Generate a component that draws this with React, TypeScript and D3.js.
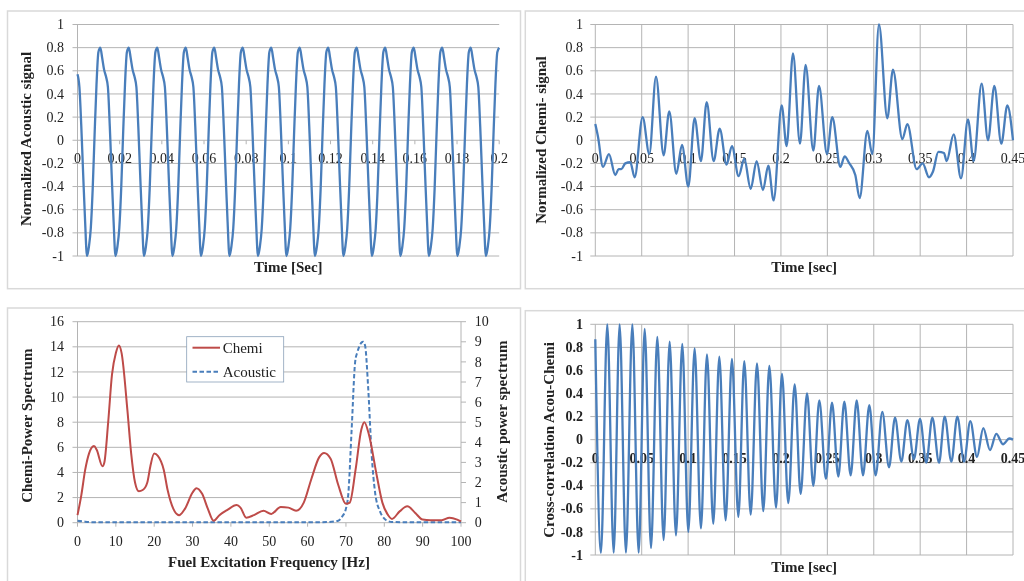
import React from "react";
import * as d3 from "d3";

const acousticSignal = [
  .57,.46,.12,-.3,-.7,-1,-.92,-.76,-.42,.05,.48,.76,.8,.71,.61,
  .55,.46,.12,-.3,-.7,-1,-.92,-.76,-.42,.05,.48,.76,.8,.71,.61,
  .55,.46,.12,-.3,-.7,-1,-.92,-.76,-.42,.05,.48,.76,.8,.71,.61,
  .55,.46,.12,-.3,-.7,-1,-.92,-.76,-.42,.05,.48,.76,.8,.71,.61,
  .55,.46,.12,-.3,-.7,-1,-.92,-.76,-.42,.05,.48,.76,.8,.71,.61,
  .55,.46,.12,-.3,-.7,-1,-.92,-.76,-.42,.05,.48,.76,.8,.71,.61,
  .55,.46,.12,-.3,-.7,-1,-.92,-.76,-.42,.05,.48,.76,.8,.71,.61,
  .55,.46,.12,-.3,-.7,-1,-.92,-.76,-.42,.05,.48,.76,.8,.71,.61,
  .55,.46,.12,-.3,-.7,-1,-.92,-.76,-.42,.05,.48,.76,.8,.71,.61,
  .55,.46,.12,-.3,-.7,-1,-.92,-.76,-.42,.05,.48,.76,.8,.71,.61,
  .55,.46,.12,-.3,-.7,-1,-.92,-.76,-.42,.05,.48,.76,.8,.71,.61,
  .55,.46,.12,-.3,-.7,-1,-.92,-.76,-.42,.05,.48,.76,.8,.71,.61,
  .55,.46,.12,-.3,-.7,-1,-.92,-.76,-.42,.05,.48,.76,.8,.71,.61,
  .55,.46,.12,-.3,-.7,-1,-.92,-.76,-.42,.05,.48,.76,.8,.71,.61,
  .55,.46,.12,-.3,-.7,-1,-.92,-.76,-.42,.05,.48,.76,.8,
];
const acousticTimeEnd = 0.2;

const chemiTimes = [0,.0029,.0083,.0147,.0215,.0251,.028,.0323,.0377,.0424,.051,.0582,.0654,.0736,.0797,.0873,.0934,.1002,.107,.1138,.12,.1275,.134,.1415,.1472,.1544,.1605,.1674,.1738,.1806,.1864,.1921,.2008,.2061,.213,.2205,.2266,.2349,.241,.2496,.2553,.264,.2686,.2737,.2801,.2848,.2931,.2984,.3056,.3146,.3207,.3308,.3362,.3462,.3527,.3595,.3638,.3696,.3757,.3785,.3861,.394,.4015,.4076,.4162,.4231,.4299,.4374,.4439,.45];
const chemiValues = [.14,.03,-.23,-.12,-.3,-.25,-.25,-.2,-.19,-.32,.2,-.12,.55,-.13,.25,-.29,-.04,-.4,.19,-.18,.33,-.18,.1,-.21,-.05,-.31,-.16,-.42,-.18,-.43,-.22,-.52,.3,-.05,.75,-.03,.65,-.09,.47,-.12,.2,-.23,-.14,-.2,-.3,-.5,.08,-.12,1,.19,.61,.01,.14,-.25,-.2,-.32,-.27,-.1,-.11,-.18,.05,-.33,.18,-.18,.49,0,.47,-.03,.3,0];

const spectrumFreq = [0,1,2,3,4.3,5,6.5,7,8,9,10,10.8,11.5,13,14,15,16,17,18.2,19,20,21,22.5,23.5,25,26.5,28,30,31,32.5,34,35.5,37,39,41.5,42.5,44,46,48.5,50.5,53,55,57,59,61,63,64.3,66,68,70,71,72.5,74,74.8,76,78,79.5,81,82,84,86,88,90,92,95,97,99,100];
const spectrumChemi = [.6,2.2,4.2,5.5,6.1,5.8,4.5,4.8,8,11.8,13.5,14.1,13.5,9,5.5,3.2,2.5,2.6,3.2,4.5,5.5,5.3,4.2,2.6,1.1,.6,1.1,2.4,2.75,2.3,1.1,.15,.6,1,1.4,1.2,.4,.6,.95,.7,1.25,1.2,.95,1.6,3.5,5.2,5.55,5.1,3,1.5,1.6,4.2,7.4,8,7,3.8,1.6,.6,.3,.9,1.3,.8,.25,.2,.2,.4,.25,.1];
const spectrumAcousticFreq = [0,2,5,20,40,60,65,68,69,70,70.6,71.5,72.4,73,74,74.5,75,75.8,76.7,77.6,78.9,80,81,82,100];
const spectrumAcoustic = [.1,.05,.02,.02,.02,.02,.03,.1,.3,.7,1.4,4.7,8,8.5,8.95,9,8.8,6.7,3.4,1.5,.55,.2,.08,.03,.02];

const corrTimes = [0,.0061,.0129,.0198,.0262,.033,.0399,.0467,.0532,.06,.0668,.0736,.0801,.0869,.0937,.1002,.107,.1138,.1203,.1271,.1336,.1404,.1472,.1541,.1605,.1674,.1742,.181,.1875,.1947,.2011,.2079,.2148,.2212,.2281,.2349,.2413,.2485,.255,.2618,.2683,.2751,.2816,.2884,.2952,.302,.3092,.3164,.3229,.3297,.3362,.3433,.3498,.3566,.3631,.3703,.3764,.3836,.39,.3972,.404,.4112,.418,.4252,.432,.4392,.4461,.45];
const corrValues = [.87,-.98,1,-.98,1,-.98,1,-.98,.96,-.94,.89,-.87,.85,-.83,.83,-.8,.79,-.77,.74,-.73,.72,-.7,.7,-.67,.68,-.65,.66,-.62,.64,-.59,.57,-.55,.48,-.47,.4,-.4,.34,-.34,.32,-.32,.33,-.31,.34,-.31,.3,-.31,.24,-.24,.19,-.19,.17,-.17,.18,-.2,.19,-.2,.2,-.19,.2,-.19,.16,-.15,.1,-.09,.05,-.04,.01,0];

const signalYTicks = [-1,-.8,-.6,-.4,-.2,0,.2,.4,.6,.8,1];
const acousticXTicks = [0,.02,.04,.06,.08,.1,.12,.14,.16,.18,.2];
const timeXTicks = [0,.05,.1,.15,.2,.25,.3,.35,.4,.45];
const chemiPowerTicks = [0,2,4,6,8,10,12,14,16];
const acousticPowerTicks = [0,1,2,3,4,5,6,7,8,9,10];
const freqTicks = [0,10,20,30,40,50,60,70,80,90,100];

const FONT = "'Liberation Serif', serif";
const BLUE = "#4a7ebb";
const RED = "#be4b48";
const GRID = "#b4b4b4";
const FRAME = "#d9d9d9";
const TXT = "#222";
const TITLE = 15;
const LW = 2.3;

type P = { x: [number, number]; y: [number, number] };

const Frame = ({ x, y, w, h }: any) => (
  <rect x={x} y={y} width={w} height={h} fill="#fff" stroke={FRAME} strokeWidth={1.5} />
);

const YLabels = ({ p, ticks, right, bold }: any) => {
  const y = d3.scaleLinear().domain([ticks[0], ticks[ticks.length - 1]]).range([p.y[1], p.y[0]]);
  return (
    <g>
      {ticks.map((t: number) => (
        <g key={t}>
          <line x1={p.x[0] - 5} x2={p.x[1]} y1={y(t)} y2={y(t)} stroke={GRID} strokeWidth={1} />
          <text x={right} y={y(t)} dy="0.33em" textAnchor="end" fontSize={14} fontWeight={bold ? "bold" : "normal"} fill={TXT} fontFamily={FONT}>{t}</text>
        </g>
      ))}
    </g>
  );
};

const SignalPanel = ({ p, xDomain, xTicks, vGrid, line, yLabelX, yLabelCy, yTitle, xTitle, xTitleY, right, bold, curve, labelDy }: any) => {
  const x = d3.scaleLinear().domain(xDomain).range(p.x);
  const y = d3.scaleLinear().domain([-1, 1]).range([p.y[1], p.y[0]]);
  const gen = d3.line<[number, number]>().x(d => x(d[0])).y(d => y(d[1])).curve(curve);
  return (
    <g>
      <YLabels p={p} ticks={signalYTicks} right={right} bold={bold} />
      <line x1={p.x[0]} x2={p.x[0]} y1={p.y[0]} y2={p.y[1]} stroke={GRID} />
      {vGrid && xTicks.slice(1).map((t: number) => (
        <line key={t} x1={x(t)} x2={x(t)} y1={p.y[0]} y2={p.y[1]} stroke={GRID} />
      ))}
      {!vGrid && xTicks.map((t: number) => (
        <line key={t} x1={x(t)} x2={x(t)} y1={y(0)} y2={y(0) + 4} stroke={GRID} />
      ))}
      {xTicks.map((t: number) => (
        <text key={t} x={x(t)} y={y(0) + labelDy} dy="0.33em" textAnchor="middle" fontSize={14} fontWeight={bold ? "bold" : "normal"} fill={TXT} fontFamily={FONT}>{t}</text>
      ))}
      <path d={gen(line) ?? ""} fill="none" stroke={BLUE} strokeWidth={LW} strokeLinejoin="round" />
      <text transform={`translate(${yLabelX},${yLabelCy}) rotate(-90)`} textAnchor="middle" dy="0.33em" fontSize={TITLE} fontWeight="bold" fill={TXT} fontFamily={FONT}>{yTitle}</text>
      <text x={(p.x[0] + p.x[1]) / 2} y={xTitleY} dy="0.33em" textAnchor="middle" fontSize={TITLE} fontWeight="bold" fill={TXT} fontFamily={FONT}>{xTitle}</text>
    </g>
  );
};

const SpectrumPanel = () => {
  const p: P = { x: [77.5, 461], y: [321.7, 522.7] };
  const x = d3.scaleLinear().domain([0, 100]).range(p.x);
  const yL = d3.scaleLinear().domain([0, 16]).range([p.y[1], p.y[0]]);
  const yR = d3.scaleLinear().domain([0, 10]).range([p.y[1], p.y[0]]);
  const chemi = d3.line<number>().x((_, i) => x(spectrumFreq[i])).y(d => yL(d)).curve(d3.curveMonotoneX);
  const acoustic = d3.line<number>().x((_, i) => x(spectrumAcousticFreq[i])).y(d => yR(d)).curve(d3.curveMonotoneX);
  const lg = { x: 186.7, y: 336.7, w: 97, h: 45.3 };
  return (
    <g>
      <YLabels p={p} ticks={chemiPowerTicks} right={64} />
      <line x1={p.x[0]} x2={p.x[0]} y1={p.y[0]} y2={p.y[1]} stroke={GRID} />
      <line x1={p.x[1]} x2={p.x[1]} y1={p.y[0]} y2={p.y[1]} stroke={GRID} />
      {acousticPowerTicks.map(t => (
        <g key={t}>
          <line x1={p.x[1]} x2={p.x[1] + 5} y1={yR(t)} y2={yR(t)} stroke={GRID} />
          <text x={474.7} y={yR(t)} dy="0.33em" fontSize={14} fill={TXT} fontFamily={FONT}>{t}</text>
        </g>
      ))}
      {freqTicks.map(t => (
        <g key={t}>
          <line x1={x(t)} x2={x(t)} y1={p.y[1]} y2={p.y[1] + 4} stroke={GRID} />
          <text x={x(t)} y={541} dy="0.33em" textAnchor="middle" fontSize={14} fill={TXT} fontFamily={FONT}>{t}</text>
        </g>
      ))}
      <path d={acoustic(spectrumAcoustic) ?? ""} fill="none" stroke={BLUE} strokeWidth={LW - 0.3} strokeDasharray="4.5 2.5" />
      <path d={chemi(spectrumChemi) ?? ""} fill="none" stroke={RED} strokeWidth={LW - 0.3} />
      <rect x={lg.x} y={lg.y} width={lg.w} height={lg.h} fill="#fff" stroke="#8aa0b8" strokeWidth={0.8} />
      <line x1={192.5} x2={220} y1={347.7} y2={347.7} stroke={RED} strokeWidth={LW - 0.3} />
      <line x1={192.5} x2={220} y1={371.7} y2={371.7} stroke={BLUE} strokeWidth={LW - 0.3} strokeDasharray="4.5 2.5" />
      <text x={222.7} y={348.5} dy="0.33em" fontSize={TITLE} fill={TXT} fontFamily={FONT}>Chemi</text>
      <text x={222.7} y={372} dy="0.33em" fontSize={TITLE} fill={TXT} fontFamily={FONT}>Acoustic</text>
      <text transform="translate(26.7,425.7) rotate(-90)" textAnchor="middle" dy="0.33em" fontSize={TITLE} fontWeight="bold" fill={TXT} fontFamily={FONT}>Chemi-Power Spectrum</text>
      <text transform="translate(501.7,421.7) rotate(-90)" textAnchor="middle" dy="0.33em" fontSize={TITLE} fontWeight="bold" fill={TXT} fontFamily={FONT}>Acoustic power spectrum</text>
      <text x={269} y={561.7} dy="0.33em" textAnchor="middle" fontSize={TITLE} fontWeight="bold" fill={TXT} fontFamily={FONT}>Fuel Excitation Frequency [Hz]</text>
    </g>
  );
};

export default function App() {
  const acousticLine = acousticSignal.map((v, i) => [(i / (acousticSignal.length - 1)) * acousticTimeEnd, v] as [number, number]);
  const chemiLine = chemiTimes.map((t, i) => [t, chemiValues[i]] as [number, number]);
  const corrLine = corrTimes.map((t, i) => [t, corrValues[i]] as [number, number]);
  return (
    <svg width={1024} height={581} viewBox="0 0 1024 581" style={{ position: "absolute", left: 0, top: 0, background: "#fff" }}>
      <defs>
        <filter id="soft" x="0" y="0" width="100%" height="100%" filterUnits="userSpaceOnUse">
          <feGaussianBlur stdDeviation="0.45" />
        </filter>
      </defs>
      <g filter="url(#soft)">
        <rect x={0} y={0} width={1024} height={581} fill="#fff" />
        <Frame x={7.5} y={11} w={513} h={277.7} />
        <Frame x={525.3} y={11} w={520} h={277.7} />
        <Frame x={7.5} y={308} w={513} h={300} />
        <Frame x={525.3} y={310.7} w={520} h={300} />
        <SignalPanel p={{ x: [77.5, 499.2], y: [24.5, 256] }} xDomain={[0, 0.2]} xTicks={acousticXTicks} line={acousticLine}
          yLabelX={26} yLabelCy={139} yTitle="Normalized Acoustic signal" xTitle="Time [Sec]" xTitleY={267} right={64}
          curve={d3.curveMonotoneX} labelDy={18.5} />
        <SignalPanel p={{ x: [595.3, 1013], y: [24.5, 256] }} xDomain={[0, 0.45]} xTicks={timeXTicks} vGrid line={chemiLine}
          yLabelX={541.3} yLabelCy={140} yTitle="Normalized Chemi- signal" xTitle="Time [sec]" xTitleY={267} right={583}
          curve={d3.curveMonotoneX} labelDy={18.5} />
        <SpectrumPanel />
        <SignalPanel p={{ x: [595.3, 1013], y: [324.3, 555] }} xDomain={[0, 0.45]} xTicks={timeXTicks} vGrid line={corrLine}
          yLabelX={548.7} yLabelCy={440} yTitle="Cross-correlation Acou-Chemi" xTitle="Time [sec]" xTitleY={566.7} right={583} bold
          curve={d3.curveMonotoneX} labelDy={18.5} />
      </g>
    </svg>
  );
}
